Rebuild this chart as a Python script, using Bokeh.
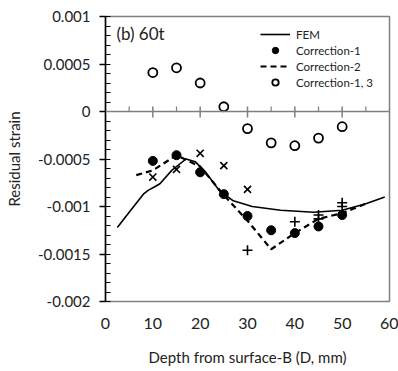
from bokeh.plotting import figure
from bokeh.models import FixedTicker, Span, Label, Range1d
from bokeh.embed import file_html
from bokeh.resources import INLINE

# ---- data ----
fem_x = [2.5, 5, 8, 9, 10.5, 11.5, 14, 17, 19, 21, 24, 27, 31, 37, 44, 50, 55, 59]
fem_y = [-0.00122, -0.00106, -0.00087, -0.00083, -0.00079, -0.00076, -0.00062, -0.00050,
         -0.00053, -0.00063, -0.00083, -0.00094, -0.00100, -0.00104, -0.00106, -0.00104,
         -0.00097, -0.00090]

c1_x = [10, 15, 20, 25, 30, 35, 40, 45, 50]
c1_y = [-0.00052, -0.00046, -0.00064, -0.00087, -0.00110, -0.00125, -0.00128, -0.00121, -0.00109]

c2_x = [6.5, 10, 15, 20, 25, 30, 35, 40, 45, 50, 55]
c2_y = [-0.00067, -0.00062, -0.00046, -0.00058, -0.00088, -0.00115, -0.00145, -0.00128,
        -0.00113, -0.00107, -0.00097]

c13_x = [10, 15, 20, 25, 30, 35, 40, 45, 50]
c13_y = [0.00041, 0.00046, 0.00030, 0.00005, -0.00018, -0.00033, -0.00036, -0.00028, -0.00016]

xmark_x = [10, 15, 20, 25, 30]
xmark_y = [-0.00069, -0.00061, -0.00044, -0.00057, -0.00082]

plus_x = [30, 40, 45, 45, 50, 50]
plus_y = [-0.00146, -0.00116, -0.00109, -0.00113, -0.00096, -0.00100]

x_ticks = [0, 10, 20, 30, 40, 50, 60]
x_minor = [5, 15, 25, 35, 45, 55]
y_ticks = [0.001, 0.0005, 0.0, -0.0005, -0.001, -0.0015, -0.002]
y_tick_labels = ["0.001", "0.0005", "0", "-0.0005", "-0.001", "-0.0015", "-0.002"]
y_minor = [round(-0.002 + 0.0001 * i, 5) for i in range(31)]

FONT = "Lato"

p = figure(frame_width=284, frame_height=285,
           x_range=Range1d(0, 60), y_range=Range1d(-0.002, 0.001),
           output_backend="svg", toolbar_location=None,
           min_border_left=105, min_border_right=9, min_border_top=16, min_border_bottom=70)
p.xgrid.visible = False
p.ygrid.visible = False
p.outline_line_color = "#808080"
p.outline_line_width = 1.5
p.background_fill_color = "white"
p.border_fill_color = "white"

# zero line with its ticks
p.add_layout(Span(location=0, dimension="width", line_color="#7f7f7f", line_width=1.5))
px = 0.0005 / 47.5
p.segment(x0=x_ticks[1:-1], y0=[5 * px] * (len(x_ticks) - 2), x1=x_ticks[1:-1],
          y1=[-6 * px] * (len(x_ticks) - 2), line_color="#7f7f7f", line_width=1.5)
p.segment(x0=x_minor, y0=[5 * px] * len(x_minor), x1=x_minor, y1=[0] * len(x_minor),
          line_color="#7f7f7f", line_width=1.2)

# series
p.line(fem_x, fem_y, line_color="black", line_width=1.6, legend_label="FEM")
p.scatter(c1_x, c1_y, marker="circle", size=9, fill_color="black", line_color="black",
          legend_label="Correction-1")
p.line(c2_x, c2_y, line_color="black", line_width=2.2, line_dash="6 4", legend_label="Correction-2")
p.scatter(c13_x, c13_y, marker="circle", size=9, fill_color="white", line_color="black",
          line_width=1.8, legend_label="Correction-1, 3")
p.scatter(xmark_x, xmark_y, marker="x", size=10, line_color="black", line_width=1.6)
p.scatter(plus_x, plus_y, marker="cross", size=10, line_color="black", line_width=1.6)

# axes
xa = p.xaxis[0]
xa.ticker = FixedTicker(ticks=x_ticks)
xa.major_tick_out = 0
xa.major_tick_in = 0
xa.minor_tick_out = 0
xa.minor_tick_in = 0
xa.axis_line_color = None
xa.major_label_standoff = 16
xa.major_label_text_font = FONT
xa.major_label_text_font_size = "16px"
xa.major_label_text_color = "#222222"
xa.axis_label = "Depth from surface-B (D, mm)"
xa.axis_label_text_font = FONT
xa.axis_label_text_font_size = "15px"
xa.axis_label_text_font_style = "normal"
xa.axis_label_text_color = "#222222"
xa.axis_label_standoff = 16

ya = p.yaxis[0]
ya.ticker = FixedTicker(ticks=y_ticks, minor_ticks=y_minor)
ya.major_label_overrides = {t: s for t, s in zip(y_ticks, y_tick_labels)}
ya.major_tick_out = 6
ya.major_tick_in = 0
ya.minor_tick_out = 0
ya.minor_tick_in = 5
ya.axis_line_color = "black"
ya.axis_line_width = 1.5
ya.major_tick_line_width = 1.5
ya.major_label_standoff = 9
ya.major_label_text_font = FONT
ya.major_label_text_font_size = "15px"
ya.major_label_text_color = "#222222"
ya.axis_label = "Residual strain"
ya.axis_label_text_font = FONT
ya.axis_label_text_font_size = "15px"
ya.axis_label_text_font_style = "normal"
ya.axis_label_text_color = "#222222"
ya.axis_label_standoff = 12

p.add_layout(Label(x=2.3, y=0.00082, text="(b) 60t", text_font=FONT, text_font_size="17px",
                   text_baseline="middle", text_color="#222222"))

lg = p.legend[0]
lg.location = (155, 211)
lg.border_line_color = None
lg.background_fill_alpha = 0
lg.label_text_font = FONT
lg.label_text_font_size = "11.5px"
lg.label_text_color = "#222222"
lg.glyph_width = 30
lg.glyph_height = 16
lg.label_height = 15
lg.spacing = 0
lg.padding = 0
lg.margin = 0
lg.label_standoff = 6

open("out.html", "w").write(file_html(p, INLINE))
